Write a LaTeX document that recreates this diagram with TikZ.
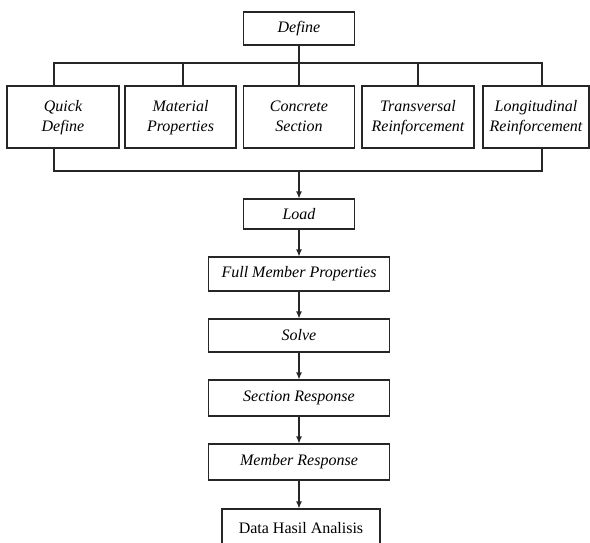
\documentclass[tikz,border=0pt]{standalone}
\usepackage{fontspec}
\setmainfont{Liberation Serif}
\usetikzlibrary{arrows.meta}

\newcommand{\twolines}[2]{\strut #1\\\strut #2}

\begin{document}
\begin{tikzpicture}[
                x=1pt,y=-1pt,
                line width=1.1pt,
                >={Latex[length=7pt,width=6pt]},
                box/.style={draw=black!85,align=center,fill=white,text=black,inner sep=0pt,
                            font=\fontsize{16}{20}\selectfont\itshape}] %

\useasboundingbox (0,0) rectangle (590,542);

                    % top
                    \node[box,minimum width=111,minimum height=33] (DEF) at (299,28.5) {Define};

                    % row of sub menus
                    \node[box,minimum width=112,minimum height=62] (QUICK) at (63,117) {\twolines{Quick}{Define}};
                    \node[box,minimum width=111,minimum height=62] (MAT) at (180.5,117) {\twolines{Material}{Properties}};
                    \node[box,minimum width=111,minimum height=62] (CONC) at (299,117) {\twolines{Concrete}{Section}};
                    \node[box,minimum width=112,minimum height=62] (TRANS) at (418,117) {\twolines{Transversal}{Reinforcement}};
                    \node[box,minimum width=106,minimum height=62] (LONG) at (536,117) {\twolines{Longitudinal}{Reinforcement}};

                    % bus lines
                    \coordinate (TL) at (54,63);
                    \coordinate (TM) at (183,63);
                    \coordinate (TR) at (542,63);
                    \coordinate (BL) at (54,171);
                    \coordinate (BR) at (542,171);

                    \draw[black!85] (QUICK.north -| TL) -- (TL) -- (TR) -- (LONG.north -| TR);
                    \draw[black!85] (MAT.north -| TM) -- (TM);
                    \draw[black!85] (TRANS.north) -- (TRANS.north |- TL);
                    \draw[black!85] (DEF) -- (CONC);
                    \draw[black!85] (QUICK.south -| BL) -- (BL) -- (BR) -- (LONG.south -| BR);

%%%%%%%%%%%%%%%%%%%%%%%%%%%%%%%%%%%%%%%%%%%%%%%%%%%%%%%%%%%%%%%%%%%%%%%%%%%%%%%%%%%%

                    % 1
                    \node[box,minimum width=111,minimum height=30] (LOAD) at (299,214) {Load};
                    \draw[black!85,->] (BL -| LOAD) -- (LOAD);

                    % 2
                    \node[box,minimum width=181,minimum height=34] (FULL) at (299,274) {Full Member Properties};
                    \draw[black!85,->] (LOAD) -- (FULL);

                    % 3
                    \node[box,minimum width=181,minimum height=33] (SOLVE) at (299,335.5) {Solve};
                    \draw[black!85,->] (FULL) -- (SOLVE);

                    % 4
                    \node[box,minimum width=181,minimum height=36] (SECT) at (299,398) {Section Response};
                    \draw[black!85,->] (SOLVE) -- (SECT);

                    % 5
                    \node[box,minimum width=181,minimum height=36] (MEMB) at (299,462) {Member Response};
                    \draw[black!85,->] (SECT) -- (MEMB);

                    % 6
                    \node[box,minimum width=158,minimum height=38,font=\fontsize{16}{20}\selectfont] (DATA) at (301,528) {Data Hasil Analisis};
                    \draw[black!85,->] (MEMB.south) -- (MEMB.south |- DATA.north);

\end{tikzpicture}
\end{document}
